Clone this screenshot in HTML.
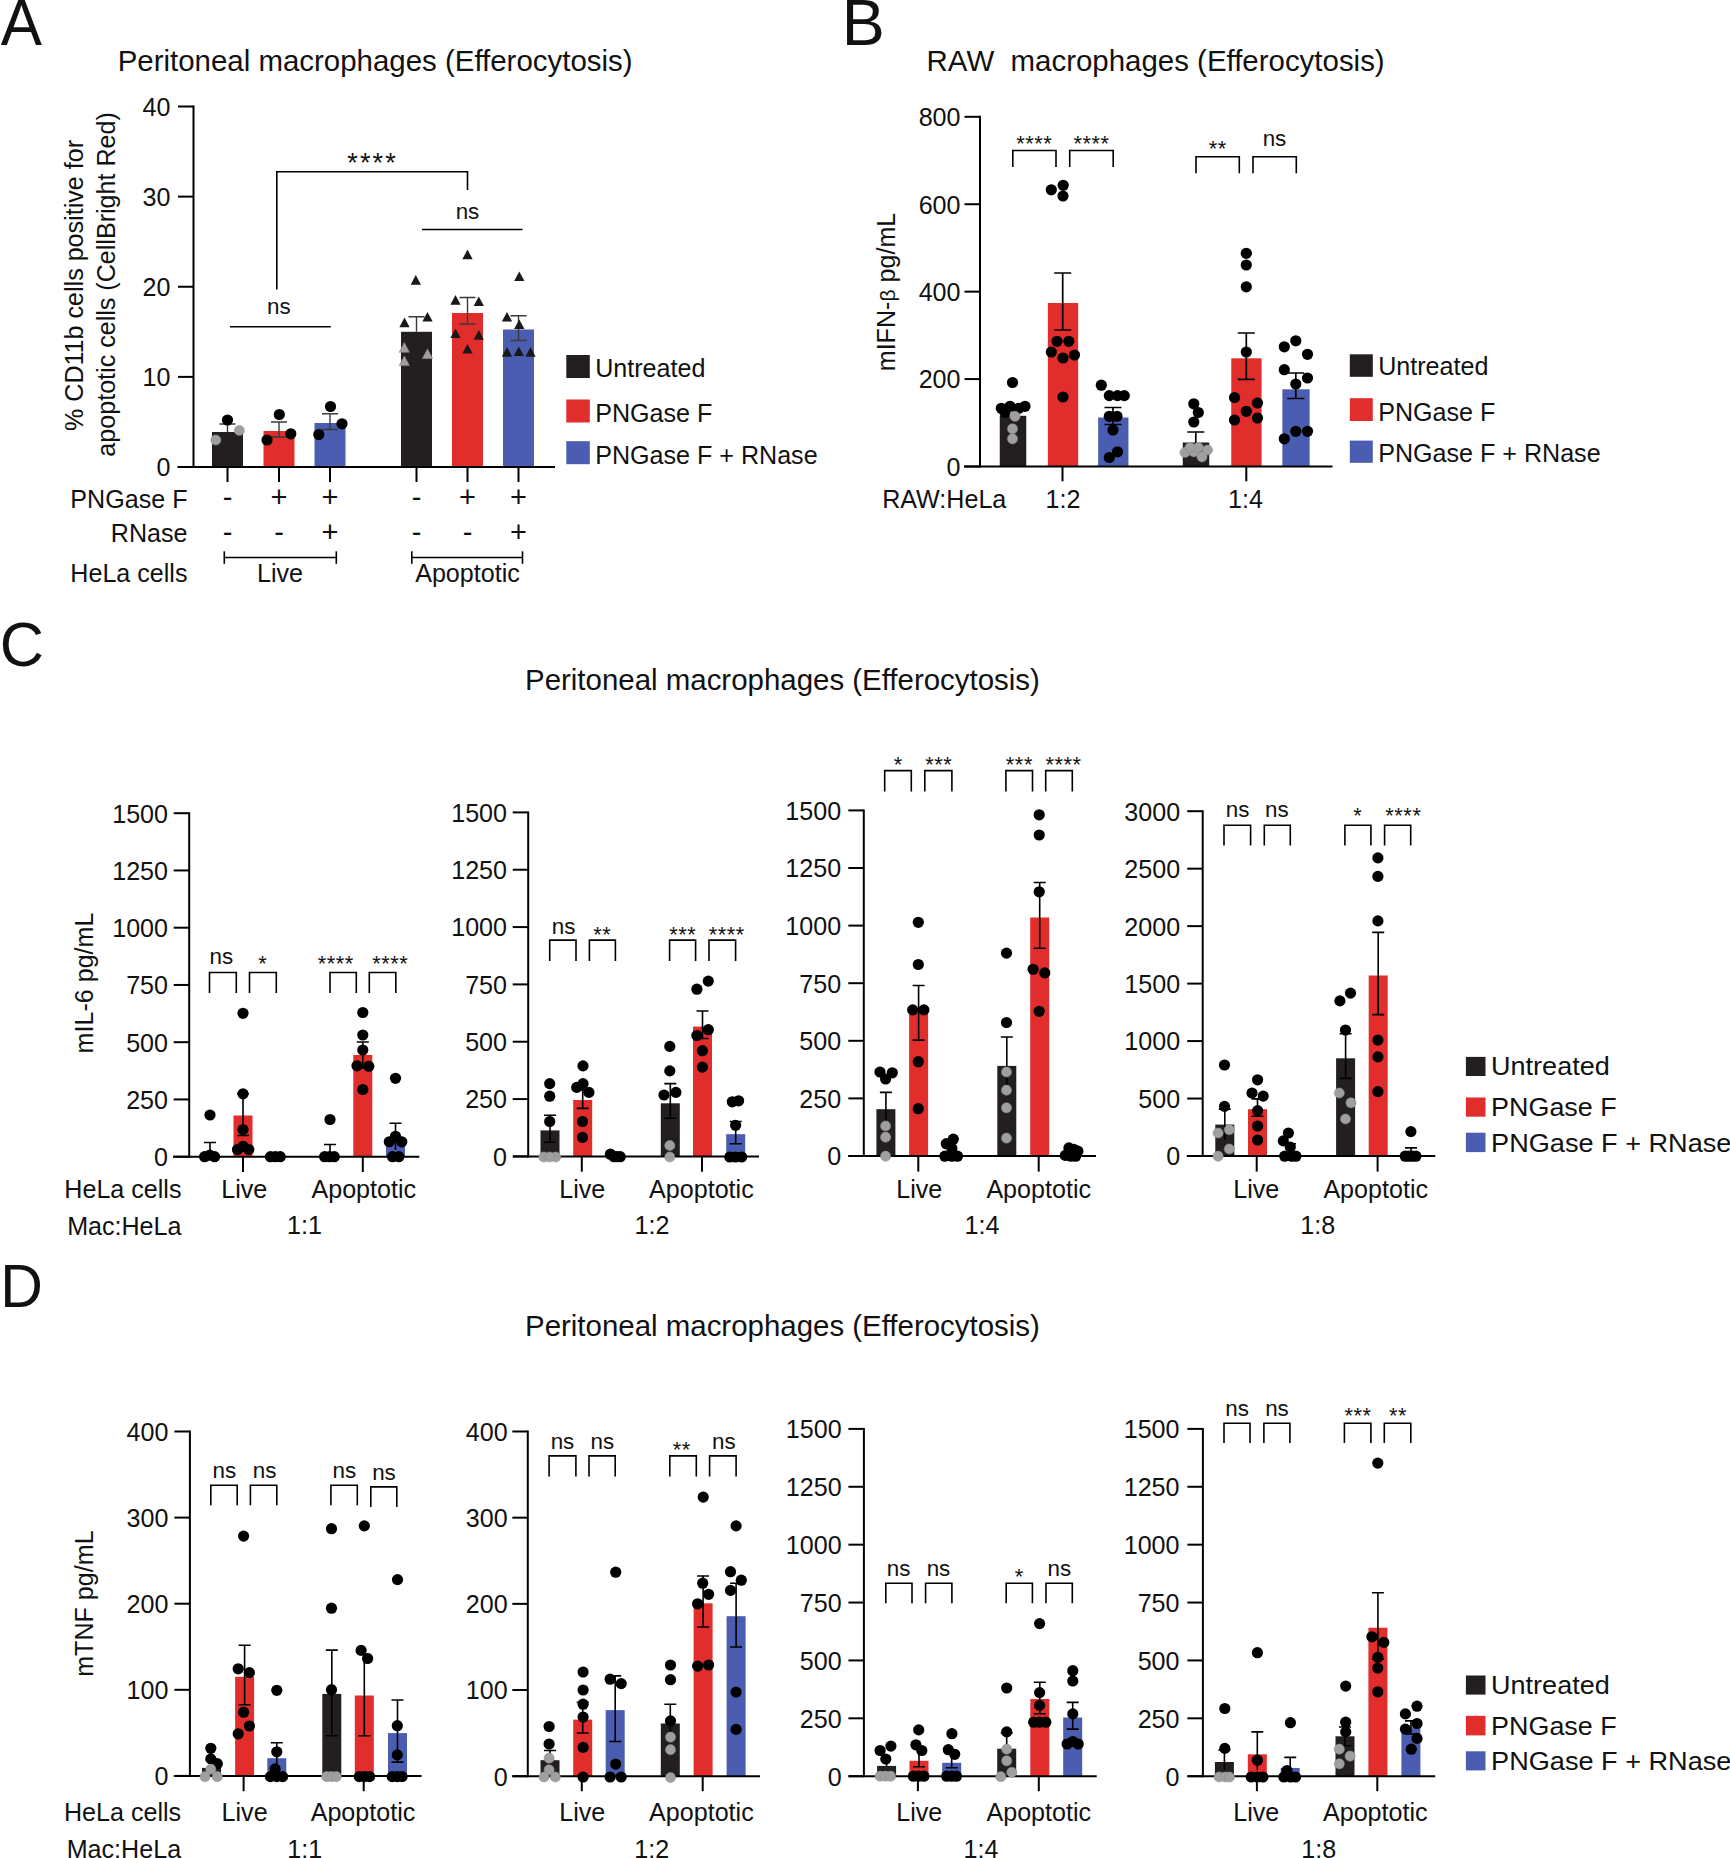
<!DOCTYPE html>
<html lang="en"><head><meta charset="utf-8"><title>Figure</title>
<style>
html,body{margin:0;padding:0;background:#fff}
svg{display:block}
text{font-family:"Liberation Sans","DejaVu Sans",sans-serif;font-size:25.1px;fill:#111}
</style></head><body>
<svg width="1730" height="1858" viewBox="0 0 1730 1858">
<rect width="1730" height="1858" fill="#fff"/>
<text x="0.7" y="45.4" style="font-size:64.6px" textLength="41.2" lengthAdjust="spacingAndGlyphs">A</text>
<text x="841.8" y="45.4" style="font-size:64.6px">B</text>
<text x="-0.3" y="666" style="font-size:62.5px" textLength="44.2" lengthAdjust="spacingAndGlyphs">C</text>
<text x="0.2" y="1307.4" style="font-size:61px" textLength="42.6" lengthAdjust="spacingAndGlyphs">D</text>
<text x="117.7" y="71.3" style="font-size:29.45px">Peritoneal macrophages (Efferocytosis)</text>
<text x="926.6" y="71.3" style="font-size:29.45px;white-space:pre" xml:space="preserve">RAW  macrophages (Efferocytosis)</text>
<text x="525" y="690.2" style="font-size:29.45px">Peritoneal macrophages (Efferocytosis)</text>
<text x="525" y="1336.1" style="font-size:29.45px">Peritoneal macrophages (Efferocytosis)</text>
<rect x="212" y="432" width="31" height="35" fill="#231f20"/>
<rect x="263.5" y="431" width="31" height="36" fill="#e12d2b"/>
<rect x="314.5" y="423" width="31" height="44" fill="#4a5db1"/>
<rect x="401" y="331.8" width="31" height="135.2" fill="#231f20"/>
<rect x="452" y="313" width="31" height="154" fill="#e12d2b"/>
<rect x="503" y="329.5" width="31" height="137.5" fill="#4a5db1"/>
<path d="M193.5 105.5L193.5 468" stroke="#000" stroke-width="2"/>
<path d="M178 467L193.5 467" stroke="#000" stroke-width="2"/>
<text x="170.5" y="476.4" text-anchor="end">0</text>
<path d="M178 376.88L193.5 376.88" stroke="#000" stroke-width="2"/>
<text x="170.5" y="386.27" text-anchor="end">10</text>
<path d="M178 286.75L193.5 286.75" stroke="#000" stroke-width="2"/>
<text x="170.5" y="296.15" text-anchor="end">20</text>
<path d="M178 196.62L193.5 196.62" stroke="#000" stroke-width="2"/>
<text x="170.5" y="206.03" text-anchor="end">30</text>
<path d="M178 106.5L193.5 106.5" stroke="#000" stroke-width="2"/>
<text x="170.5" y="115.9" text-anchor="end">40</text>
<path d="M177.5 467L555 467" stroke="#000" stroke-width="2"/>
<path d="M227.5 467L227.5 482" stroke="#000" stroke-width="2"/>
<path d="M279 467L279 482" stroke="#000" stroke-width="2"/>
<path d="M330 467L330 482" stroke="#000" stroke-width="2"/>
<path d="M416.5 467L416.5 482" stroke="#000" stroke-width="2"/>
<path d="M467.5 467L467.5 482" stroke="#000" stroke-width="2"/>
<path d="M518.5 467L518.5 482" stroke="#000" stroke-width="2"/>
<path d="M227.5 424L227.5 432M219.5 424L235.5 424" fill="none" stroke="#3a3a3a" stroke-width="1.4"/>
<path d="M279 422L279 437M271 422L287 422M271 437L287 437" fill="none" stroke="#3a3a3a" stroke-width="1.4"/>
<path d="M330 413.8L330 429.5M322 413.8L338 413.8M322 429.5L338 429.5" fill="none" stroke="#3a3a3a" stroke-width="1.4"/>
<path d="M416.5 316.8L416.5 331.8M408.5 316.8L424.5 316.8" fill="none" stroke="#3a3a3a" stroke-width="1.4"/>
<path d="M467.5 297.5L467.5 324M459.5 297.5L475.5 297.5M459.5 324L475.5 324" fill="none" stroke="#3a3a3a" stroke-width="1.4"/>
<path d="M518.5 315.8L518.5 340.5M510.5 315.8L526.5 315.8M510.5 340.5L526.5 340.5" fill="none" stroke="#3a3a3a" stroke-width="1.4"/>
<circle cx="227.5" cy="420" r="5.6" fill="#000"/>
<circle cx="215.8" cy="440" r="5.1" fill="#9f9f9f" stroke="#8c8c8c" stroke-width="0.5"/>
<circle cx="239.3" cy="430.5" r="5.1" fill="#9f9f9f" stroke="#8c8c8c" stroke-width="0.5"/>
<circle cx="279.3" cy="414.5" r="5.6" fill="#000"/>
<circle cx="267" cy="440" r="5.6" fill="#000"/>
<circle cx="290.8" cy="433.8" r="5.6" fill="#000"/>
<circle cx="330.5" cy="406.5" r="5.6" fill="#000"/>
<circle cx="318.8" cy="434.5" r="5.6" fill="#000"/>
<circle cx="342" cy="423.8" r="5.6" fill="#000"/>
<polygon points="415.8,275.1 410.65,284.8 420.95,284.8" fill="#1a1819"/>
<polygon points="404.5,317.6 399.35,327.3 409.65,327.3" fill="#1a1819"/>
<polygon points="427.5,311.9 422.35,321.6 432.65,321.6" fill="#1a1819"/>
<polygon points="404.3,342.6 399.15,352.3 409.45,352.3" fill="#9f9f9f" stroke="#8c8c8c" stroke-width="0.6"/>
<polygon points="404.3,355.9 399.15,365.6 409.45,365.6" fill="#9f9f9f" stroke="#8c8c8c" stroke-width="0.6"/>
<polygon points="427.5,348.9 422.35,358.6 432.65,358.6" fill="#9f9f9f" stroke="#8c8c8c" stroke-width="0.6"/>
<polygon points="467.5,249.6 462.35,259.3 472.65,259.3" fill="#1a1819"/>
<polygon points="455.5,295.1 450.35,304.8 460.65,304.8" fill="#1a1819"/>
<polygon points="478.8,296.4 473.65,306.1 483.95,306.1" fill="#1a1819"/>
<polygon points="455.5,328.4 450.35,338.1 460.65,338.1" fill="#1a1819"/>
<polygon points="478.8,330.1 473.65,339.8 483.95,339.8" fill="#1a1819"/>
<polygon points="467.5,343.9 462.35,353.6 472.65,353.6" fill="#1a1819"/>
<polygon points="519.3,271.4 514.15,281.1 524.45,281.1" fill="#1a1819"/>
<polygon points="507,311.9 501.85,321.6 512.15,321.6" fill="#1a1819"/>
<polygon points="519.3,319.4 514.15,329.1 524.45,329.1" fill="#1a1819"/>
<polygon points="507,347.1 501.85,356.8 512.15,356.8" fill="#1a1819"/>
<polygon points="518.8,346.4 513.65,356.1 523.95,356.1" fill="#1a1819"/>
<polygon points="530.5,347.1 525.35,356.8 535.65,356.8" fill="#1a1819"/>
<path d="M230 326.8L330.8 326.8" stroke="#000" stroke-width="1.6"/>
<text x="278.8" y="313.8" text-anchor="middle" style="font-size:22.4px">ns</text>
<path d="M276.8 289.5L276.8 171.8L467.5 171.8L467.5 190" fill="none" stroke="#000" stroke-width="1.6"/>
<text x="372.6" y="171.63" text-anchor="middle" style="font-size:27px;letter-spacing:2.2px">****</text>
<path d="M422 229.5L522.5 229.5" stroke="#000" stroke-width="1.6"/>
<text x="467.5" y="218.8" text-anchor="middle" style="font-size:22.4px">ns</text>
<text x="83" y="285.5" text-anchor="middle" transform="rotate(-90 83 285.5)">% CD11b cells positive for</text>
<text x="115" y="284.4" text-anchor="middle" transform="rotate(-90 115 284.4)">apoptotic cells (CellBright Red)</text>
<text x="187.5" y="507.5" text-anchor="end">PNGase F</text>
<text x="187.5" y="542" text-anchor="end">RNase</text>
<text x="187.5" y="582" text-anchor="end">HeLa cells</text>
<text x="227.5" y="506.5" text-anchor="middle" style="font-size:29px">-</text>
<text x="227.5" y="541.5" text-anchor="middle" style="font-size:29px">-</text>
<text x="279" y="506.5" text-anchor="middle" style="font-size:29px">+</text>
<text x="279" y="541.5" text-anchor="middle" style="font-size:29px">-</text>
<text x="330" y="506.5" text-anchor="middle" style="font-size:29px">+</text>
<text x="330" y="541.5" text-anchor="middle" style="font-size:29px">+</text>
<text x="416.5" y="506.5" text-anchor="middle" style="font-size:29px">-</text>
<text x="416.5" y="541.5" text-anchor="middle" style="font-size:29px">-</text>
<text x="467.5" y="506.5" text-anchor="middle" style="font-size:29px">+</text>
<text x="467.5" y="541.5" text-anchor="middle" style="font-size:29px">-</text>
<text x="518.5" y="506.5" text-anchor="middle" style="font-size:29px">+</text>
<text x="518.5" y="541.5" text-anchor="middle" style="font-size:29px">+</text>
<path d="M224.3 557.5L336.3 557.5" stroke="#000" stroke-width="1.6"/>
<path d="M224.3 551.3L224.3 563.8" stroke="#000" stroke-width="1.6"/>
<path d="M336.3 551.3L336.3 563.8" stroke="#000" stroke-width="1.6"/>
<path d="M411.8 557.5L522.5 557.5" stroke="#000" stroke-width="1.6"/>
<path d="M411.8 551.3L411.8 563.8" stroke="#000" stroke-width="1.6"/>
<path d="M522.5 551.3L522.5 563.8" stroke="#000" stroke-width="1.6"/>
<text x="280" y="582" text-anchor="middle">Live</text>
<text x="467.5" y="582" text-anchor="middle">Apoptotic</text>
<rect x="566.3" y="355" width="23.5" height="23" fill="#231f20"/>
<text x="595.2" y="376.6">Untreated</text>
<rect x="566.3" y="399.5" width="23.5" height="23" fill="#e12d2b"/>
<text x="595.2" y="422">PNGase F</text>
<rect x="566.3" y="441.2" width="23.5" height="23" fill="#4a5db1"/>
<text x="595.2" y="463.8">PNGase F + RNase</text>
<rect x="999.75" y="415.8" width="26.5" height="50.7" fill="#231f20"/>
<rect x="1047.85" y="303" width="30.3" height="163.5" fill="#e12d2b"/>
<rect x="1098.15" y="417.5" width="30.3" height="49" fill="#4a5db1"/>
<rect x="1182.75" y="442.5" width="26.5" height="24" fill="#231f20"/>
<rect x="1231.25" y="358.3" width="30.3" height="108.2" fill="#e12d2b"/>
<rect x="1282.35" y="389.3" width="27.3" height="77.2" fill="#4a5db1"/>
<path d="M980 115.8L980 467.5" stroke="#000" stroke-width="2"/>
<path d="M964.5 466.5L980 466.5" stroke="#000" stroke-width="2"/>
<text x="960.5" y="475.9" text-anchor="end">0</text>
<path d="M964.5 379.07L980 379.07" stroke="#000" stroke-width="2"/>
<text x="960.5" y="388.47" text-anchor="end">200</text>
<path d="M964.5 291.65L980 291.65" stroke="#000" stroke-width="2"/>
<text x="960.5" y="301.05" text-anchor="end">400</text>
<path d="M964.5 204.23L980 204.23" stroke="#000" stroke-width="2"/>
<text x="960.5" y="213.63" text-anchor="end">600</text>
<path d="M964.5 116.8L980 116.8" stroke="#000" stroke-width="2"/>
<text x="960.5" y="126.2" text-anchor="end">800</text>
<path d="M964 466.5L1332.5 466.5" stroke="#000" stroke-width="2"/>
<path d="M1062.5 466.5L1062.5 481.3" stroke="#000" stroke-width="2"/>
<path d="M1246.3 466.5L1246.3 481.3" stroke="#000" stroke-width="2"/>
<path d="M1013 405L1013 415.8" fill="none" stroke="#000" stroke-width="1.7"/>
<path d="M1062.7 273L1062.7 330M1054.2 273L1071.2 273M1054.2 330L1071.2 330" fill="none" stroke="#000" stroke-width="1.7"/>
<path d="M1113 407.5L1113 424.5M1104.5 407.5L1121.5 407.5M1104.5 424.5L1121.5 424.5" fill="none" stroke="#000" stroke-width="1.7"/>
<path d="M1195.8 432L1195.8 453M1187.3 432L1204.3 432" fill="none" stroke="#000" stroke-width="1.7"/>
<path d="M1246.3 333L1246.3 379.3M1237.8 333L1254.8 333M1237.8 379.3L1254.8 379.3" fill="none" stroke="#000" stroke-width="1.7"/>
<path d="M1295.8 373L1295.8 398.5M1287.3 373L1304.3 373M1287.3 398.5L1304.3 398.5" fill="none" stroke="#000" stroke-width="1.7"/>
<circle cx="1012.5" cy="382.5" r="5.6" fill="#000"/>
<circle cx="1001.3" cy="408.3" r="5.6" fill="#000"/>
<circle cx="1010" cy="406.3" r="5.6" fill="#000"/>
<circle cx="1018.8" cy="408.3" r="5.6" fill="#000"/>
<circle cx="1025" cy="406.3" r="5.6" fill="#000"/>
<circle cx="1005" cy="412.5" r="5.6" fill="#000"/>
<circle cx="1015" cy="416.3" r="5.1" fill="#9f9f9f" stroke="#8c8c8c" stroke-width="0.5"/>
<circle cx="1012.5" cy="428.8" r="5.1" fill="#9f9f9f" stroke="#8c8c8c" stroke-width="0.5"/>
<circle cx="1012.5" cy="438.8" r="5.1" fill="#9f9f9f" stroke="#8c8c8c" stroke-width="0.5"/>
<circle cx="1051.3" cy="189.8" r="5.6" fill="#000"/>
<circle cx="1063.2" cy="185.3" r="5.6" fill="#000"/>
<circle cx="1063" cy="196" r="5.6" fill="#000"/>
<circle cx="1057" cy="341.3" r="5.6" fill="#000"/>
<circle cx="1068.8" cy="341.3" r="5.6" fill="#000"/>
<circle cx="1051.3" cy="352" r="5.6" fill="#000"/>
<circle cx="1063" cy="358" r="5.6" fill="#000"/>
<circle cx="1074.5" cy="355" r="5.6" fill="#000"/>
<circle cx="1063" cy="397" r="5.6" fill="#000"/>
<circle cx="1101.3" cy="385.2" r="5.6" fill="#000"/>
<circle cx="1109.3" cy="395.6" r="5.6" fill="#000"/>
<circle cx="1117.5" cy="395.6" r="5.6" fill="#000"/>
<circle cx="1124.3" cy="395.6" r="5.6" fill="#000"/>
<circle cx="1109.3" cy="416.3" r="5.6" fill="#000"/>
<circle cx="1117" cy="416.3" r="5.6" fill="#000"/>
<circle cx="1113" cy="430" r="5.6" fill="#000"/>
<circle cx="1117.5" cy="451.8" r="5.6" fill="#000"/>
<circle cx="1109.3" cy="457.5" r="5.6" fill="#000"/>
<circle cx="1193.8" cy="403.8" r="5.6" fill="#000"/>
<circle cx="1198.3" cy="412.5" r="5.6" fill="#000"/>
<circle cx="1193.8" cy="422" r="5.6" fill="#000"/>
<circle cx="1185" cy="452.5" r="5.1" fill="#9f9f9f" stroke="#8c8c8c" stroke-width="0.5"/>
<circle cx="1193.8" cy="451.8" r="5.1" fill="#9f9f9f" stroke="#8c8c8c" stroke-width="0.5"/>
<circle cx="1198.3" cy="447.5" r="5.1" fill="#9f9f9f" stroke="#8c8c8c" stroke-width="0.5"/>
<circle cx="1207.5" cy="450" r="5.1" fill="#9f9f9f" stroke="#8c8c8c" stroke-width="0.5"/>
<circle cx="1202" cy="456.8" r="5.1" fill="#9f9f9f" stroke="#8c8c8c" stroke-width="0.5"/>
<circle cx="1190" cy="447.5" r="5.1" fill="#9f9f9f" stroke="#8c8c8c" stroke-width="0.5"/>
<circle cx="1246.3" cy="253.3" r="5.6" fill="#000"/>
<circle cx="1246.3" cy="265" r="5.6" fill="#000"/>
<circle cx="1246.3" cy="286.8" r="5.6" fill="#000"/>
<circle cx="1246.3" cy="352" r="5.6" fill="#000"/>
<circle cx="1234.5" cy="397.5" r="5.6" fill="#000"/>
<circle cx="1257.5" cy="403" r="5.6" fill="#000"/>
<circle cx="1246.3" cy="411.3" r="5.6" fill="#000"/>
<circle cx="1234.5" cy="420" r="5.6" fill="#000"/>
<circle cx="1257.5" cy="418" r="5.6" fill="#000"/>
<circle cx="1295.8" cy="340.8" r="5.6" fill="#000"/>
<circle cx="1284.3" cy="346.8" r="5.6" fill="#000"/>
<circle cx="1307.5" cy="354.3" r="5.6" fill="#000"/>
<circle cx="1284.3" cy="369.7" r="5.6" fill="#000"/>
<circle cx="1307.5" cy="378" r="5.6" fill="#000"/>
<circle cx="1295.8" cy="384" r="5.6" fill="#000"/>
<circle cx="1295.8" cy="431.3" r="5.6" fill="#000"/>
<circle cx="1307.5" cy="431.3" r="5.6" fill="#000"/>
<circle cx="1284.3" cy="438.8" r="5.6" fill="#000"/>
<path d="M1012.8 167L1012.8 150.5L1056 150.5L1056 167" fill="none" stroke="#000" stroke-width="1.6"/>
<path d="M1069.7 167L1069.7 150.5L1113.2 150.5L1113.2 167" fill="none" stroke="#000" stroke-width="1.6"/>
<path d="M1196 173.2L1196 156.8L1239.3 156.8L1239.3 173.2" fill="none" stroke="#000" stroke-width="1.6"/>
<path d="M1253 173.2L1253 156.8L1296.3 156.8L1296.3 173.2" fill="none" stroke="#000" stroke-width="1.6"/>
<text x="1034.28" y="151.34" text-anchor="middle" style="font-size:21.8px;letter-spacing:0.55px">****</text>
<text x="1091.58" y="151.34" text-anchor="middle" style="font-size:21.8px;letter-spacing:0.55px">****</text>
<text x="1217.78" y="155.54" text-anchor="middle" style="font-size:21.8px;letter-spacing:0.55px">**</text>
<text x="1274.5" y="145.8" text-anchor="middle" style="font-size:22.4px">ns</text>
<text x="895.4" y="292" text-anchor="middle" transform="rotate(-90 895.4 292)">mIFN-<tspan style="font-size:21px">β</tspan> pg/mL</text>
<text x="1006.3" y="508" text-anchor="end">RAW:HeLa</text>
<text x="1063" y="508" text-anchor="middle">1:2</text>
<text x="1245.5" y="508" text-anchor="middle">1:4</text>
<rect x="1349.8" y="354.3" width="23" height="22.5" fill="#231f20"/>
<text x="1378.2" y="375.2">Untreated</text>
<rect x="1349.8" y="398.2" width="23" height="22.8" fill="#e12d2b"/>
<text x="1378.2" y="420.7">PNGase F</text>
<rect x="1349.8" y="440.6" width="23" height="22.2" fill="#4a5db1"/>
<text x="1378.2" y="462.4">PNGase F + RNase</text>
<rect x="233.5" y="1115.5" width="19" height="41.2" fill="#e12d2b"/>
<rect x="353.3" y="1055" width="19" height="101.7" fill="#e12d2b"/>
<rect x="386" y="1137.5" width="19" height="19.2" fill="#4a5db1"/>
<path d="M189.2 812.2L189.2 1157.7" stroke="#000" stroke-width="2"/>
<path d="M173.7 1156.7L189.2 1156.7" stroke="#000" stroke-width="2"/>
<text x="168" y="1166.1" text-anchor="end">0</text>
<path d="M173.7 1099.45L189.2 1099.45" stroke="#000" stroke-width="2"/>
<text x="168" y="1108.85" text-anchor="end">250</text>
<path d="M173.7 1042.2L189.2 1042.2" stroke="#000" stroke-width="2"/>
<text x="168" y="1051.6" text-anchor="end">500</text>
<path d="M173.7 984.95L189.2 984.95" stroke="#000" stroke-width="2"/>
<text x="168" y="994.35" text-anchor="end">750</text>
<path d="M173.7 927.7L189.2 927.7" stroke="#000" stroke-width="2"/>
<text x="168" y="937.1" text-anchor="end">1000</text>
<path d="M173.7 870.45L189.2 870.45" stroke="#000" stroke-width="2"/>
<text x="168" y="879.85" text-anchor="end">1250</text>
<path d="M173.7 813.2L189.2 813.2" stroke="#000" stroke-width="2"/>
<text x="168" y="822.6" text-anchor="end">1500</text>
<path d="M173 1156.7L419.3 1156.7" stroke="#000" stroke-width="2"/>
<path d="M243 1156.7L243 1172" stroke="#000" stroke-width="2"/>
<path d="M362.8 1156.7L362.8 1172" stroke="#000" stroke-width="2"/>
<path d="M210 1142.5L210 1156M204 1142.5L216 1142.5" fill="none" stroke="#000" stroke-width="1.6"/>
<path d="M243 1093.8L243 1135.5M237 1093.8L249 1093.8M237 1135.5L249 1135.5" fill="none" stroke="#000" stroke-width="1.6"/>
<path d="M330 1144.5L330 1156M324 1144.5L336 1144.5" fill="none" stroke="#000" stroke-width="1.6"/>
<path d="M362.8 1042L362.8 1068M356.8 1042L368.8 1042M356.8 1068L368.8 1068" fill="none" stroke="#000" stroke-width="1.6"/>
<path d="M395.5 1123.3L395.5 1150M389.5 1123.3L401.5 1123.3" fill="none" stroke="#000" stroke-width="1.6"/>
<circle cx="210" cy="1115" r="5.6" fill="#000"/>
<circle cx="204.6" cy="1156.7" r="5.6" fill="#000"/>
<circle cx="209.8" cy="1155.2" r="5.6" fill="#000"/>
<circle cx="214.6" cy="1156.7" r="5.6" fill="#000"/>
<circle cx="243" cy="1013.3" r="5.6" fill="#000"/>
<circle cx="243" cy="1093.8" r="5.6" fill="#000"/>
<circle cx="243" cy="1129.5" r="5.6" fill="#000"/>
<circle cx="237.5" cy="1149.5" r="5.6" fill="#000"/>
<circle cx="243" cy="1146.3" r="5.6" fill="#000"/>
<circle cx="248.8" cy="1149.5" r="5.6" fill="#000"/>
<circle cx="270.5" cy="1156.7" r="5.6" fill="#000"/>
<circle cx="275.4" cy="1156.7" r="5.6" fill="#000"/>
<circle cx="280.2" cy="1156.7" r="5.6" fill="#000"/>
<circle cx="330" cy="1119.5" r="5.6" fill="#000"/>
<circle cx="324.6" cy="1156.7" r="5.6" fill="#000"/>
<circle cx="329.5" cy="1156.7" r="5.6" fill="#000"/>
<circle cx="334.3" cy="1156.7" r="5.6" fill="#000"/>
<circle cx="362.8" cy="1012.5" r="5.6" fill="#000"/>
<circle cx="362.8" cy="1035" r="5.6" fill="#000"/>
<circle cx="362.8" cy="1050" r="5.6" fill="#000"/>
<circle cx="357" cy="1065.8" r="5.6" fill="#000"/>
<circle cx="368.8" cy="1066.3" r="5.6" fill="#000"/>
<circle cx="362.8" cy="1089.5" r="5.6" fill="#000"/>
<circle cx="395.5" cy="1078.3" r="5.6" fill="#000"/>
<circle cx="395.5" cy="1136.3" r="5.6" fill="#000"/>
<circle cx="389.3" cy="1141.8" r="5.6" fill="#000"/>
<circle cx="401.8" cy="1141.8" r="5.6" fill="#000"/>
<circle cx="392.5" cy="1156.7" r="5.6" fill="#000"/>
<circle cx="398.8" cy="1156.7" r="5.6" fill="#000"/>
<path d="M209.5 993L209.5 972.5L236.3 972.5L236.3 993" fill="none" stroke="#000" stroke-width="1.6"/>
<path d="M249.5 993L249.5 972.5L276.3 972.5L276.3 993" fill="none" stroke="#000" stroke-width="1.6"/>
<path d="M330 993L330 972.5L356.3 972.5L356.3 993" fill="none" stroke="#000" stroke-width="1.6"/>
<path d="M369.3 993L369.3 972.5L395.8 972.5L395.8 993" fill="none" stroke="#000" stroke-width="1.6"/>
<text x="221.3" y="963.8" text-anchor="middle" style="font-size:22.4px">ns</text>
<text x="262.77" y="971.34" text-anchor="middle" style="font-size:21.8px;letter-spacing:0.55px">*</text>
<text x="335.77" y="971.34" text-anchor="middle" style="font-size:21.8px;letter-spacing:0.55px">****</text>
<text x="390.27" y="971.34" text-anchor="middle" style="font-size:21.8px;letter-spacing:0.55px">****</text>
<text x="244.3" y="1198.2" text-anchor="middle">Live</text>
<text x="363.8" y="1198.2" text-anchor="middle">Apoptotic</text>
<text x="304.5" y="1234.3" text-anchor="middle">1:1</text>
<text x="181.5" y="1198" text-anchor="end">HeLa cells</text>
<text x="181.5" y="1234.5" text-anchor="end">Mac:HeLa</text>
<text x="92.5" y="983" text-anchor="middle" transform="rotate(-90 92.5 983)">mIL-6 pg/mL</text>
<rect x="540.5" y="1130.4" width="19" height="26" fill="#231f20"/>
<rect x="573.2" y="1100" width="19" height="56.4" fill="#e12d2b"/>
<rect x="660.8" y="1103.3" width="19" height="53.1" fill="#231f20"/>
<rect x="693" y="1026.6" width="19" height="129.8" fill="#e12d2b"/>
<rect x="726.2" y="1134.2" width="19" height="22.2" fill="#4a5db1"/>
<path d="M528.2 811.4L528.2 1157.4" stroke="#000" stroke-width="2"/>
<path d="M512.7 1156.4L528.2 1156.4" stroke="#000" stroke-width="2"/>
<text x="507" y="1165.8" text-anchor="end">0</text>
<path d="M512.7 1099.07L528.2 1099.07" stroke="#000" stroke-width="2"/>
<text x="507" y="1108.47" text-anchor="end">250</text>
<path d="M512.7 1041.73L528.2 1041.73" stroke="#000" stroke-width="2"/>
<text x="507" y="1051.13" text-anchor="end">500</text>
<path d="M512.7 984.4L528.2 984.4" stroke="#000" stroke-width="2"/>
<text x="507" y="993.8" text-anchor="end">750</text>
<path d="M512.7 927.07L528.2 927.07" stroke="#000" stroke-width="2"/>
<text x="507" y="936.47" text-anchor="end">1000</text>
<path d="M512.7 869.73L528.2 869.73" stroke="#000" stroke-width="2"/>
<text x="507" y="879.13" text-anchor="end">1250</text>
<path d="M512.7 812.4L528.2 812.4" stroke="#000" stroke-width="2"/>
<text x="507" y="821.8" text-anchor="end">1500</text>
<path d="M513 1156.4L759 1156.4" stroke="#000" stroke-width="2"/>
<path d="M581.8 1156.4L581.8 1171.7" stroke="#000" stroke-width="2"/>
<path d="M702 1156.4L702 1171.7" stroke="#000" stroke-width="2"/>
<path d="M550 1115.2L550 1142.3M544 1115.2L556 1115.2M544 1142.3L556 1142.3" fill="none" stroke="#000" stroke-width="1.6"/>
<path d="M582.7 1089.9L582.7 1108.4M576.7 1089.9L588.7 1089.9M576.7 1108.4L588.7 1108.4" fill="none" stroke="#000" stroke-width="1.6"/>
<path d="M670.3 1083.6L670.3 1118.2M664.3 1083.6L676.3 1083.6M664.3 1118.2L676.3 1118.2" fill="none" stroke="#000" stroke-width="1.6"/>
<path d="M702.5 1011L702.5 1038.5M696.5 1011L708.5 1011M696.5 1038.5L708.5 1038.5" fill="none" stroke="#000" stroke-width="1.6"/>
<path d="M735.7 1121.5L735.7 1143.8M729.7 1121.5L741.7 1121.5M729.7 1143.8L741.7 1143.8" fill="none" stroke="#000" stroke-width="1.6"/>
<circle cx="549.7" cy="1083.6" r="5.6" fill="#000"/>
<circle cx="549.7" cy="1096.2" r="5.6" fill="#000"/>
<circle cx="549.7" cy="1121.5" r="5.6" fill="#000"/>
<circle cx="543.8" cy="1157" r="5.1" fill="#9f9f9f" stroke="#8c8c8c" stroke-width="0.5"/>
<circle cx="555.7" cy="1157" r="5.1" fill="#9f9f9f" stroke="#8c8c8c" stroke-width="0.5"/>
<circle cx="549.7" cy="1157" r="5.1" fill="#9f9f9f" stroke="#8c8c8c" stroke-width="0.5"/>
<circle cx="583" cy="1065.9" r="5.6" fill="#000"/>
<circle cx="576.7" cy="1087.4" r="5.6" fill="#000"/>
<circle cx="583" cy="1083.6" r="5.6" fill="#000"/>
<circle cx="588.9" cy="1092.4" r="5.6" fill="#000"/>
<circle cx="582.5" cy="1121.5" r="5.6" fill="#000"/>
<circle cx="582.5" cy="1137.4" r="5.6" fill="#000"/>
<circle cx="610.4" cy="1154.2" r="5.6" fill="#000"/>
<circle cx="614" cy="1156.7" r="5.6" fill="#000"/>
<circle cx="617" cy="1156.7" r="5.6" fill="#000"/>
<circle cx="620.2" cy="1156.7" r="5.6" fill="#000"/>
<circle cx="669.8" cy="1046.4" r="5.6" fill="#000"/>
<circle cx="669.8" cy="1070.9" r="5.6" fill="#000"/>
<circle cx="664" cy="1095" r="5.6" fill="#000"/>
<circle cx="675.9" cy="1092.4" r="5.6" fill="#000"/>
<circle cx="669.8" cy="1145.5" r="5.1" fill="#9f9f9f" stroke="#8c8c8c" stroke-width="0.5"/>
<circle cx="669.8" cy="1157" r="5.1" fill="#9f9f9f" stroke="#8c8c8c" stroke-width="0.5"/>
<circle cx="708.3" cy="981.1" r="5.6" fill="#000"/>
<circle cx="696.9" cy="989.2" r="5.6" fill="#000"/>
<circle cx="708.3" cy="1029.7" r="5.6" fill="#000"/>
<circle cx="696.9" cy="1035.5" r="5.6" fill="#000"/>
<circle cx="702.4" cy="1050.7" r="5.6" fill="#000"/>
<circle cx="702.4" cy="1067.1" r="5.6" fill="#000"/>
<circle cx="732.3" cy="1101.8" r="5.6" fill="#000"/>
<circle cx="738.6" cy="1100.8" r="5.6" fill="#000"/>
<circle cx="735.6" cy="1125.3" r="5.6" fill="#000"/>
<circle cx="729.8" cy="1157" r="5.6" fill="#000"/>
<circle cx="735.6" cy="1157" r="5.6" fill="#000"/>
<circle cx="741.7" cy="1157" r="5.6" fill="#000"/>
<path d="M549.7 960.9L549.7 940.1L576 940.1L576 960.9" fill="none" stroke="#000" stroke-width="1.6"/>
<path d="M589.4 960.9L589.4 940.1L615.4 940.1L615.4 960.9" fill="none" stroke="#000" stroke-width="1.6"/>
<path d="M669.6 960.9L669.6 940.1L695.6 940.1L695.6 960.9" fill="none" stroke="#000" stroke-width="1.6"/>
<path d="M709 960.9L709 940.1L735.6 940.1L735.6 960.9" fill="none" stroke="#000" stroke-width="1.6"/>
<text x="563.6" y="933.8" text-anchor="middle" style="font-size:22.4px">ns</text>
<text x="602.27" y="941.74" text-anchor="middle" style="font-size:21.8px;letter-spacing:0.55px">**</text>
<text x="682.77" y="941.74" text-anchor="middle" style="font-size:21.8px;letter-spacing:0.55px">***</text>
<text x="726.77" y="941.74" text-anchor="middle" style="font-size:21.8px;letter-spacing:0.55px">****</text>
<text x="582.3" y="1197.6" text-anchor="middle">Live</text>
<text x="701.4" y="1197.6" text-anchor="middle">Apoptotic</text>
<text x="652" y="1234" text-anchor="middle">1:2</text>
<rect x="876.4" y="1109.2" width="19" height="46.8" fill="#231f20"/>
<rect x="909.1" y="1012.7" width="19" height="143.3" fill="#e12d2b"/>
<rect x="997.3" y="1065.9" width="19" height="90.1" fill="#231f20"/>
<rect x="1030.2" y="917.5" width="19" height="238.5" fill="#e12d2b"/>
<path d="M863.8 809.4L863.8 1157" stroke="#000" stroke-width="2"/>
<path d="M848.3 1156L863.8 1156" stroke="#000" stroke-width="2"/>
<text x="841.2" y="1165.4" text-anchor="end">0</text>
<path d="M848.3 1098.4L863.8 1098.4" stroke="#000" stroke-width="2"/>
<text x="841.2" y="1107.8" text-anchor="end">250</text>
<path d="M848.3 1040.8L863.8 1040.8" stroke="#000" stroke-width="2"/>
<text x="841.2" y="1050.2" text-anchor="end">500</text>
<path d="M848.3 983.2L863.8 983.2" stroke="#000" stroke-width="2"/>
<text x="841.2" y="992.6" text-anchor="end">750</text>
<path d="M848.3 925.6L863.8 925.6" stroke="#000" stroke-width="2"/>
<text x="841.2" y="935" text-anchor="end">1000</text>
<path d="M848.3 868L863.8 868" stroke="#000" stroke-width="2"/>
<text x="841.2" y="877.4" text-anchor="end">1250</text>
<path d="M848.3 810.4L863.8 810.4" stroke="#000" stroke-width="2"/>
<text x="841.2" y="819.8" text-anchor="end">1500</text>
<path d="M848.4 1156L1096 1156" stroke="#000" stroke-width="2"/>
<path d="M918.3 1156L918.3 1171.6" stroke="#000" stroke-width="2"/>
<path d="M1038.7 1156L1038.7 1171.6" stroke="#000" stroke-width="2"/>
<path d="M885.9 1092.4L885.9 1125M879.9 1092.4L891.9 1092.4" fill="none" stroke="#000" stroke-width="1.6"/>
<path d="M918.6 985.5L918.6 1040.1M912.6 985.5L924.6 985.5M912.6 1040.1L924.6 1040.1" fill="none" stroke="#000" stroke-width="1.6"/>
<path d="M1006.8 1037L1006.8 1090M1000.8 1037L1012.8 1037" fill="none" stroke="#000" stroke-width="1.6"/>
<path d="M1039.7 882.5L1039.7 948.3M1033.7 882.5L1045.7 882.5M1033.7 948.3L1045.7 948.3" fill="none" stroke="#000" stroke-width="1.6"/>
<circle cx="880" cy="1072" r="5.6" fill="#000"/>
<circle cx="892.3" cy="1072.8" r="5.6" fill="#000"/>
<circle cx="885.6" cy="1079" r="5.6" fill="#000"/>
<circle cx="885.6" cy="1126" r="5.1" fill="#9f9f9f" stroke="#8c8c8c" stroke-width="0.5"/>
<circle cx="885.6" cy="1137.2" r="5.1" fill="#9f9f9f" stroke="#8c8c8c" stroke-width="0.5"/>
<circle cx="885.6" cy="1156.2" r="5.1" fill="#9f9f9f" stroke="#8c8c8c" stroke-width="0.5"/>
<circle cx="918.3" cy="922.3" r="5.6" fill="#000"/>
<circle cx="918.3" cy="964.5" r="5.6" fill="#000"/>
<circle cx="912.7" cy="1009.9" r="5.6" fill="#000"/>
<circle cx="923.9" cy="1009.9" r="5.6" fill="#000"/>
<circle cx="918.3" cy="1061.7" r="5.6" fill="#000"/>
<circle cx="918.3" cy="1108.7" r="5.6" fill="#000"/>
<circle cx="953.3" cy="1139.2" r="5.6" fill="#000"/>
<circle cx="946.3" cy="1143.7" r="5.6" fill="#000"/>
<circle cx="951.9" cy="1148.4" r="5.6" fill="#000"/>
<circle cx="944.9" cy="1156.2" r="5.6" fill="#000"/>
<circle cx="951.9" cy="1156.2" r="5.6" fill="#000"/>
<circle cx="957.5" cy="1156.2" r="5.6" fill="#000"/>
<circle cx="1006.5" cy="953.1" r="5.6" fill="#000"/>
<circle cx="1006.5" cy="1022.5" r="5.6" fill="#000"/>
<circle cx="1006.5" cy="1072" r="5.1" fill="#9f9f9f" stroke="#8c8c8c" stroke-width="0.5"/>
<circle cx="1006.5" cy="1090.2" r="5.1" fill="#9f9f9f" stroke="#8c8c8c" stroke-width="0.5"/>
<circle cx="1006.5" cy="1107.8" r="5.1" fill="#9f9f9f" stroke="#8c8c8c" stroke-width="0.5"/>
<circle cx="1006.5" cy="1138.1" r="5.1" fill="#9f9f9f" stroke="#8c8c8c" stroke-width="0.5"/>
<circle cx="1039.2" cy="814.8" r="5.6" fill="#000"/>
<circle cx="1039.2" cy="835" r="5.6" fill="#000"/>
<circle cx="1039.2" cy="891.8" r="5.6" fill="#000"/>
<circle cx="1033.1" cy="969.3" r="5.6" fill="#000"/>
<circle cx="1044.8" cy="972.9" r="5.6" fill="#000"/>
<circle cx="1039.2" cy="1011.3" r="5.6" fill="#000"/>
<circle cx="1068.9" cy="1147.9" r="5.6" fill="#000"/>
<circle cx="1073.7" cy="1149.3" r="5.6" fill="#000"/>
<circle cx="1077.9" cy="1151.2" r="5.6" fill="#000"/>
<circle cx="1065.3" cy="1155.4" r="5.6" fill="#000"/>
<circle cx="1070.9" cy="1156.2" r="5.6" fill="#000"/>
<circle cx="1075.6" cy="1156.2" r="5.6" fill="#000"/>
<path d="M884.7 791.6L884.7 770.6L911.3 770.6L911.3 791.6" fill="none" stroke="#000" stroke-width="1.6"/>
<path d="M924.8 791.6L924.8 770.6L951.9 770.6L951.9 791.6" fill="none" stroke="#000" stroke-width="1.6"/>
<path d="M1005.9 791.6L1005.9 770.6L1032.5 770.6L1032.5 791.6" fill="none" stroke="#000" stroke-width="1.6"/>
<path d="M1045.7 791.6L1045.7 770.6L1072.3 770.6L1072.3 791.6" fill="none" stroke="#000" stroke-width="1.6"/>
<text x="898.17" y="771.64" text-anchor="middle" style="font-size:21.8px;letter-spacing:0.55px">*</text>
<text x="938.77" y="771.64" text-anchor="middle" style="font-size:21.8px;letter-spacing:0.55px">***</text>
<text x="1019.38" y="771.64" text-anchor="middle" style="font-size:21.8px;letter-spacing:0.55px">***</text>
<text x="1063.58" y="771.64" text-anchor="middle" style="font-size:21.8px;letter-spacing:0.55px">****</text>
<text x="919.2" y="1197.6" text-anchor="middle">Live</text>
<text x="1038.7" y="1197.6" text-anchor="middle">Apoptotic</text>
<text x="981.9" y="1234" text-anchor="middle">1:4</text>
<rect x="1215.3" y="1124.6" width="19" height="31.4" fill="#231f20"/>
<rect x="1248" y="1109.2" width="19" height="46.8" fill="#e12d2b"/>
<rect x="1336.1" y="1058.3" width="19" height="97.7" fill="#231f20"/>
<rect x="1368.7" y="975.5" width="19" height="180.5" fill="#e12d2b"/>
<path d="M1202.7 810.2L1202.7 1157" stroke="#000" stroke-width="2"/>
<path d="M1187.2 1156L1202.7 1156" stroke="#000" stroke-width="2"/>
<text x="1180.2" y="1165.4" text-anchor="end">0</text>
<path d="M1187.2 1098.53L1202.7 1098.53" stroke="#000" stroke-width="2"/>
<text x="1180.2" y="1107.93" text-anchor="end">500</text>
<path d="M1187.2 1041.07L1202.7 1041.07" stroke="#000" stroke-width="2"/>
<text x="1180.2" y="1050.47" text-anchor="end">1000</text>
<path d="M1187.2 983.6L1202.7 983.6" stroke="#000" stroke-width="2"/>
<text x="1180.2" y="993" text-anchor="end">1500</text>
<path d="M1187.2 926.13L1202.7 926.13" stroke="#000" stroke-width="2"/>
<text x="1180.2" y="935.53" text-anchor="end">2000</text>
<path d="M1187.2 868.67L1202.7 868.67" stroke="#000" stroke-width="2"/>
<text x="1180.2" y="878.07" text-anchor="end">2500</text>
<path d="M1187.2 811.2L1202.7 811.2" stroke="#000" stroke-width="2"/>
<text x="1180.2" y="820.6" text-anchor="end">3000</text>
<path d="M1186.8 1156L1435.3 1156" stroke="#000" stroke-width="2"/>
<path d="M1256.7 1156L1256.7 1171.6" stroke="#000" stroke-width="2"/>
<path d="M1377.6 1156L1377.6 1171.6" stroke="#000" stroke-width="2"/>
<path d="M1224.8 1109.2L1224.8 1140M1218.8 1109.2L1230.8 1109.2" fill="none" stroke="#000" stroke-width="1.6"/>
<path d="M1257.5 1098.9L1257.5 1116.2M1251.5 1098.9L1263.5 1098.9M1251.5 1116.2L1263.5 1116.2" fill="none" stroke="#000" stroke-width="1.6"/>
<path d="M1290 1143.7L1290 1150M1284 1143.7L1296 1143.7" fill="none" stroke="#000" stroke-width="1.6"/>
<path d="M1345.6 1033.7L1345.6 1078.4M1339.6 1033.7L1351.6 1033.7M1339.6 1078.4L1351.6 1078.4" fill="none" stroke="#000" stroke-width="1.6"/>
<path d="M1378.2 932.4L1378.2 1014.6M1372.2 932.4L1384.2 932.4M1372.2 1014.6L1384.2 1014.6" fill="none" stroke="#000" stroke-width="1.6"/>
<path d="M1411 1147.9L1411 1155M1405 1147.9L1417 1147.9" fill="none" stroke="#000" stroke-width="1.6"/>
<circle cx="1224.5" cy="1065" r="5.6" fill="#000"/>
<circle cx="1224.5" cy="1106.4" r="5.6" fill="#000"/>
<circle cx="1218.1" cy="1133" r="5.1" fill="#9f9f9f" stroke="#8c8c8c" stroke-width="0.5"/>
<circle cx="1229.3" cy="1129.7" r="5.1" fill="#9f9f9f" stroke="#8c8c8c" stroke-width="0.5"/>
<circle cx="1229.3" cy="1149" r="5.1" fill="#9f9f9f" stroke="#8c8c8c" stroke-width="0.5"/>
<circle cx="1218.1" cy="1156.2" r="5.1" fill="#9f9f9f" stroke="#8c8c8c" stroke-width="0.5"/>
<circle cx="1257.6" cy="1079.8" r="5.6" fill="#000"/>
<circle cx="1252" cy="1093" r="5.6" fill="#000"/>
<circle cx="1263.2" cy="1096.1" r="5.6" fill="#000"/>
<circle cx="1257.6" cy="1110.6" r="5.6" fill="#000"/>
<circle cx="1257.6" cy="1126" r="5.6" fill="#000"/>
<circle cx="1257.6" cy="1140" r="5.6" fill="#000"/>
<circle cx="1288.4" cy="1133" r="5.6" fill="#000"/>
<circle cx="1283.3" cy="1140.9" r="5.6" fill="#000"/>
<circle cx="1290.3" cy="1147" r="5.6" fill="#000"/>
<circle cx="1284.7" cy="1156.2" r="5.6" fill="#000"/>
<circle cx="1291.7" cy="1156.2" r="5.6" fill="#000"/>
<circle cx="1295.9" cy="1156.2" r="5.6" fill="#000"/>
<circle cx="1339.9" cy="1000.9" r="5.6" fill="#000"/>
<circle cx="1350.5" cy="993.1" r="5.6" fill="#000"/>
<circle cx="1345.5" cy="1030" r="5.6" fill="#000"/>
<circle cx="1339.3" cy="1093" r="5.1" fill="#9f9f9f" stroke="#8c8c8c" stroke-width="0.5"/>
<circle cx="1351" cy="1102.8" r="5.1" fill="#9f9f9f" stroke="#8c8c8c" stroke-width="0.5"/>
<circle cx="1345.5" cy="1119" r="5.1" fill="#9f9f9f" stroke="#8c8c8c" stroke-width="0.5"/>
<circle cx="1377.9" cy="857.9" r="5.6" fill="#000"/>
<circle cx="1377.9" cy="876.4" r="5.6" fill="#000"/>
<circle cx="1377.9" cy="920.9" r="5.6" fill="#000"/>
<circle cx="1377.9" cy="1040.1" r="5.6" fill="#000"/>
<circle cx="1377.9" cy="1056.9" r="5.6" fill="#000"/>
<circle cx="1377.9" cy="1091.6" r="5.6" fill="#000"/>
<circle cx="1410.9" cy="1131.6" r="5.6" fill="#000"/>
<circle cx="1405.2" cy="1156.2" r="5.6" fill="#000"/>
<circle cx="1408.8" cy="1156.2" r="5.6" fill="#000"/>
<circle cx="1412.4" cy="1156.2" r="5.6" fill="#000"/>
<circle cx="1415.9" cy="1156.2" r="5.6" fill="#000"/>
<path d="M1224 845.6L1224 825.2L1250.6 825.2L1250.6 845.6" fill="none" stroke="#000" stroke-width="1.6"/>
<path d="M1264.3 845.6L1264.3 825.2L1290.3 825.2L1290.3 845.6" fill="none" stroke="#000" stroke-width="1.6"/>
<path d="M1344.9 845.6L1344.9 825.2L1370.9 825.2L1370.9 845.6" fill="none" stroke="#000" stroke-width="1.6"/>
<path d="M1384.6 845.6L1384.6 825.2L1410.7 825.2L1410.7 845.6" fill="none" stroke="#000" stroke-width="1.6"/>
<text x="1237.7" y="816.8" text-anchor="middle" style="font-size:22.4px">ns</text>
<text x="1276.9" y="816.8" text-anchor="middle" style="font-size:22.4px">ns</text>
<text x="1357.78" y="822.84" text-anchor="middle" style="font-size:21.8px;letter-spacing:0.55px">*</text>
<text x="1403.38" y="822.84" text-anchor="middle" style="font-size:21.8px;letter-spacing:0.55px">****</text>
<text x="1256.2" y="1197.6" text-anchor="middle">Live</text>
<text x="1375.7" y="1197.6" text-anchor="middle">Apoptotic</text>
<text x="1317.7" y="1234" text-anchor="middle">1:8</text>
<rect x="1465.9" y="1056.9" width="19.6" height="19.1" fill="#231f20"/>
<text x="1491.1" y="1075.1" style="font-size:25.6px" textLength="118.6" lengthAdjust="spacingAndGlyphs">Untreated</text>
<rect x="1465.9" y="1097.5" width="19.6" height="19.2" fill="#e12d2b"/>
<text x="1491.1" y="1116.2" style="font-size:25.6px" textLength="125.6" lengthAdjust="spacingAndGlyphs">PNGase F</text>
<rect x="1465.9" y="1132.7" width="19.6" height="19.4" fill="#4a5db1"/>
<text x="1491.1" y="1151.8" style="font-size:25.6px" textLength="240.3" lengthAdjust="spacingAndGlyphs">PNGase F + RNase</text>
<rect x="202" y="1767.9" width="19" height="8" fill="#231f20"/>
<rect x="235.1" y="1676.8" width="19" height="99.1" fill="#e12d2b"/>
<rect x="267.3" y="1758.2" width="19" height="17.7" fill="#4a5db1"/>
<rect x="322.3" y="1693.9" width="19" height="82" fill="#231f20"/>
<rect x="354.8" y="1695.5" width="19" height="80.4" fill="#e12d2b"/>
<rect x="388" y="1733.1" width="19" height="42.8" fill="#4a5db1"/>
<path d="M189.9 1430.5L189.9 1776.9" stroke="#000" stroke-width="2"/>
<path d="M174.4 1775.9L189.9 1775.9" stroke="#000" stroke-width="2"/>
<text x="168.4" y="1785.3" text-anchor="end">0</text>
<path d="M174.4 1689.8L189.9 1689.8" stroke="#000" stroke-width="2"/>
<text x="168.4" y="1699.2" text-anchor="end">100</text>
<path d="M174.4 1603.7L189.9 1603.7" stroke="#000" stroke-width="2"/>
<text x="168.4" y="1613.1" text-anchor="end">200</text>
<path d="M174.4 1517.6L189.9 1517.6" stroke="#000" stroke-width="2"/>
<text x="168.4" y="1527" text-anchor="end">300</text>
<path d="M174.4 1431.5L189.9 1431.5" stroke="#000" stroke-width="2"/>
<text x="168.4" y="1440.9" text-anchor="end">400</text>
<path d="M173.8 1775.9L421.6 1775.9" stroke="#000" stroke-width="2"/>
<path d="M243.6 1775.9L243.6 1791.2" stroke="#000" stroke-width="2"/>
<path d="M363.7 1775.9L363.7 1791.2" stroke="#000" stroke-width="2"/>
<path d="M244.6 1645.3L244.6 1704.8M238.6 1645.3L250.6 1645.3M238.6 1704.8L250.6 1704.8" fill="none" stroke="#000" stroke-width="1.6"/>
<path d="M276.8 1742.8L276.8 1770M270.8 1742.8L282.8 1742.8" fill="none" stroke="#000" stroke-width="1.6"/>
<path d="M331.8 1650.1L331.8 1735.7M325.8 1650.1L337.8 1650.1M325.8 1735.7L337.8 1735.7" fill="none" stroke="#000" stroke-width="1.6"/>
<path d="M364.3 1654.3L364.3 1735.7M358.3 1654.3L370.3 1654.3M358.3 1735.7L370.3 1735.7" fill="none" stroke="#000" stroke-width="1.6"/>
<path d="M397.5 1700L397.5 1762.1M391.5 1700L403.5 1700M391.5 1762.1L403.5 1762.1" fill="none" stroke="#000" stroke-width="1.6"/>
<circle cx="210.8" cy="1748.3" r="5.6" fill="#000"/>
<circle cx="210.8" cy="1758.9" r="5.6" fill="#000"/>
<circle cx="217.3" cy="1763.7" r="5.6" fill="#000"/>
<circle cx="210.8" cy="1769.2" r="5.1" fill="#9f9f9f" stroke="#8c8c8c" stroke-width="0.5"/>
<circle cx="205" cy="1776.6" r="5.1" fill="#9f9f9f" stroke="#8c8c8c" stroke-width="0.5"/>
<circle cx="217.3" cy="1776.6" r="5.1" fill="#9f9f9f" stroke="#8c8c8c" stroke-width="0.5"/>
<circle cx="243.6" cy="1536.1" r="5.6" fill="#000"/>
<circle cx="238.2" cy="1668.8" r="5.6" fill="#000"/>
<circle cx="249.4" cy="1672.6" r="5.6" fill="#000"/>
<circle cx="243.6" cy="1712.2" r="5.6" fill="#000"/>
<circle cx="249.4" cy="1726" r="5.6" fill="#000"/>
<circle cx="238.2" cy="1733.8" r="5.6" fill="#000"/>
<circle cx="276.8" cy="1690.3" r="5.6" fill="#000"/>
<circle cx="276.8" cy="1751.8" r="5.6" fill="#000"/>
<circle cx="275.1" cy="1768.9" r="5.6" fill="#000"/>
<circle cx="270.4" cy="1776.6" r="5.6" fill="#000"/>
<circle cx="276.8" cy="1776.6" r="5.6" fill="#000"/>
<circle cx="282.6" cy="1776.6" r="5.6" fill="#000"/>
<circle cx="331.5" cy="1528.7" r="5.6" fill="#000"/>
<circle cx="331.5" cy="1608.2" r="5.6" fill="#000"/>
<circle cx="331.5" cy="1689.7" r="5.6" fill="#000"/>
<circle cx="326.7" cy="1776.6" r="5.1" fill="#9f9f9f" stroke="#8c8c8c" stroke-width="0.5"/>
<circle cx="331.5" cy="1776.6" r="5.1" fill="#9f9f9f" stroke="#8c8c8c" stroke-width="0.5"/>
<circle cx="336.3" cy="1776.6" r="5.1" fill="#9f9f9f" stroke="#8c8c8c" stroke-width="0.5"/>
<circle cx="364.3" cy="1525.9" r="5.6" fill="#000"/>
<circle cx="361.1" cy="1650.4" r="5.6" fill="#000"/>
<circle cx="367.6" cy="1658.5" r="5.6" fill="#000"/>
<circle cx="359.3" cy="1776.6" r="5.6" fill="#000"/>
<circle cx="364.4" cy="1776.6" r="5.6" fill="#000"/>
<circle cx="369.6" cy="1776.6" r="5.6" fill="#000"/>
<circle cx="397.5" cy="1579.6" r="5.6" fill="#000"/>
<circle cx="397.3" cy="1725.7" r="5.6" fill="#000"/>
<circle cx="397.3" cy="1754.9" r="5.6" fill="#000"/>
<circle cx="392.2" cy="1776.6" r="5.6" fill="#000"/>
<circle cx="397.2" cy="1776.6" r="5.6" fill="#000"/>
<circle cx="402.1" cy="1776.6" r="5.6" fill="#000"/>
<path d="M210.8 1505.3L210.8 1485.3L237.2 1485.3L237.2 1505.3" fill="none" stroke="#000" stroke-width="1.6"/>
<path d="M250.4 1505.3L250.4 1485.3L276.8 1485.3L276.8 1505.3" fill="none" stroke="#000" stroke-width="1.6"/>
<path d="M330.9 1505.3L330.9 1485.3L357.3 1485.3L357.3 1505.3" fill="none" stroke="#000" stroke-width="1.6"/>
<path d="M370.8 1507L370.8 1486.9L396.8 1486.9L396.8 1507" fill="none" stroke="#000" stroke-width="1.6"/>
<text x="224.3" y="1478.2" text-anchor="middle" style="font-size:22.4px">ns</text>
<text x="264.6" y="1478.2" text-anchor="middle" style="font-size:22.4px">ns</text>
<text x="344.4" y="1478.2" text-anchor="middle" style="font-size:22.4px">ns</text>
<text x="384" y="1479.8" text-anchor="middle" style="font-size:22.4px">ns</text>
<text x="244.6" y="1820.7" text-anchor="middle">Live</text>
<text x="363" y="1820.7" text-anchor="middle">Apoptotic</text>
<text x="304.8" y="1857.5" text-anchor="middle">1:1</text>
<text x="181.1" y="1820.7" text-anchor="end">HeLa cells</text>
<text x="181.1" y="1857.5" text-anchor="end">Mac:HeLa</text>
<text x="93.3" y="1603.6" text-anchor="middle" transform="rotate(-90 93.3 1603.6)">mTNF pg/mL</text>
<rect x="540.5" y="1760.2" width="19" height="16" fill="#231f20"/>
<rect x="573.2" y="1719.6" width="19" height="56.6" fill="#e12d2b"/>
<rect x="605.7" y="1710.1" width="19" height="66.1" fill="#4a5db1"/>
<rect x="660.8" y="1723.5" width="19" height="52.7" fill="#231f20"/>
<rect x="693.6" y="1603.3" width="19" height="172.9" fill="#e12d2b"/>
<rect x="726.6" y="1616.2" width="19" height="160" fill="#4a5db1"/>
<path d="M527.8 1430.5L527.8 1777.2" stroke="#000" stroke-width="2"/>
<path d="M512.3 1776.2L527.8 1776.2" stroke="#000" stroke-width="2"/>
<text x="507.7" y="1785.6" text-anchor="end">0</text>
<path d="M512.3 1690.03L527.8 1690.03" stroke="#000" stroke-width="2"/>
<text x="507.7" y="1699.43" text-anchor="end">100</text>
<path d="M512.3 1603.85L527.8 1603.85" stroke="#000" stroke-width="2"/>
<text x="507.7" y="1613.25" text-anchor="end">200</text>
<path d="M512.3 1517.67L527.8 1517.67" stroke="#000" stroke-width="2"/>
<text x="507.7" y="1527.08" text-anchor="end">300</text>
<path d="M512.3 1431.5L527.8 1431.5" stroke="#000" stroke-width="2"/>
<text x="507.7" y="1440.9" text-anchor="end">400</text>
<path d="M512.3 1776.2L760 1776.2" stroke="#000" stroke-width="2"/>
<path d="M581.8 1776.2L581.8 1791.2" stroke="#000" stroke-width="2"/>
<path d="M702.7 1776.2L702.7 1791.2" stroke="#000" stroke-width="2"/>
<path d="M550 1750.5L550 1770M544 1750.5L556 1750.5" fill="none" stroke="#000" stroke-width="1.6"/>
<path d="M582.7 1702.4L582.7 1733M576.7 1702.4L588.7 1702.4M576.7 1733L588.7 1733" fill="none" stroke="#000" stroke-width="1.6"/>
<path d="M615.2 1675.9L615.2 1741.5M609.2 1675.9L621.2 1675.9M609.2 1741.5L621.2 1741.5" fill="none" stroke="#000" stroke-width="1.6"/>
<path d="M670.3 1704.2L670.3 1740M664.3 1704.2L676.3 1704.2" fill="none" stroke="#000" stroke-width="1.6"/>
<path d="M703.1 1576L703.1 1627M697.1 1576L709.1 1576M697.1 1627L709.1 1627" fill="none" stroke="#000" stroke-width="1.6"/>
<path d="M736.1 1583.2L736.1 1647M730.1 1583.2L742.1 1583.2M730.1 1647L742.1 1647" fill="none" stroke="#000" stroke-width="1.6"/>
<circle cx="549.1" cy="1726.5" r="5.6" fill="#000"/>
<circle cx="549.1" cy="1744" r="5.6" fill="#000"/>
<circle cx="549.1" cy="1758.2" r="5.1" fill="#9f9f9f" stroke="#8c8c8c" stroke-width="0.5"/>
<circle cx="549.1" cy="1769.8" r="5.1" fill="#9f9f9f" stroke="#8c8c8c" stroke-width="0.5"/>
<circle cx="544" cy="1777" r="5.1" fill="#9f9f9f" stroke="#8c8c8c" stroke-width="0.5"/>
<circle cx="555.3" cy="1777" r="5.1" fill="#9f9f9f" stroke="#8c8c8c" stroke-width="0.5"/>
<circle cx="583.1" cy="1672" r="5.6" fill="#000"/>
<circle cx="583.1" cy="1690" r="5.6" fill="#000"/>
<circle cx="583.1" cy="1704.2" r="5.6" fill="#000"/>
<circle cx="583.1" cy="1717" r="5.6" fill="#000"/>
<circle cx="583.1" cy="1747.4" r="5.6" fill="#000"/>
<circle cx="583.1" cy="1777" r="5.6" fill="#000"/>
<circle cx="615.7" cy="1572.2" r="5.6" fill="#000"/>
<circle cx="610.1" cy="1679.2" r="5.6" fill="#000"/>
<circle cx="621.2" cy="1683.6" r="5.6" fill="#000"/>
<circle cx="615.7" cy="1764.1" r="5.6" fill="#000"/>
<circle cx="610.1" cy="1777" r="5.6" fill="#000"/>
<circle cx="621.2" cy="1777" r="5.6" fill="#000"/>
<circle cx="670.5" cy="1665" r="5.6" fill="#000"/>
<circle cx="670.5" cy="1679.7" r="5.6" fill="#000"/>
<circle cx="670.5" cy="1720.9" r="5.6" fill="#000"/>
<circle cx="670.5" cy="1737.1" r="5.1" fill="#9f9f9f" stroke="#8c8c8c" stroke-width="0.5"/>
<circle cx="670.5" cy="1749.7" r="5.1" fill="#9f9f9f" stroke="#8c8c8c" stroke-width="0.5"/>
<circle cx="670.5" cy="1777.5" r="5.1" fill="#9f9f9f" stroke="#8c8c8c" stroke-width="0.5"/>
<circle cx="703.2" cy="1497.1" r="5.6" fill="#000"/>
<circle cx="702.7" cy="1583.2" r="5.6" fill="#000"/>
<circle cx="708.6" cy="1594.3" r="5.6" fill="#000"/>
<circle cx="697.6" cy="1603.8" r="5.6" fill="#000"/>
<circle cx="697.6" cy="1666.1" r="5.6" fill="#000"/>
<circle cx="708.6" cy="1665" r="5.6" fill="#000"/>
<circle cx="736.1" cy="1525.9" r="5.6" fill="#000"/>
<circle cx="730.5" cy="1571.7" r="5.6" fill="#000"/>
<circle cx="741.3" cy="1580.2" r="5.6" fill="#000"/>
<circle cx="730.5" cy="1590.4" r="5.6" fill="#000"/>
<circle cx="736.1" cy="1692.1" r="5.6" fill="#000"/>
<circle cx="736.1" cy="1729.4" r="5.6" fill="#000"/>
<path d="M549.1 1476.5L549.1 1455.9L575.9 1455.9L575.9 1476.5" fill="none" stroke="#000" stroke-width="1.6"/>
<path d="M589 1476.5L589 1455.9L615.2 1455.9L615.2 1476.5" fill="none" stroke="#000" stroke-width="1.6"/>
<path d="M669.8 1476.5L669.8 1455.9L696.3 1455.9L696.3 1476.5" fill="none" stroke="#000" stroke-width="1.6"/>
<path d="M709.6 1476.5L709.6 1455.9L736.1 1455.9L736.1 1476.5" fill="none" stroke="#000" stroke-width="1.6"/>
<text x="562.5" y="1448.9" text-anchor="middle" style="font-size:22.4px">ns</text>
<text x="602.4" y="1448.9" text-anchor="middle" style="font-size:22.4px">ns</text>
<text x="681.88" y="1456.74" text-anchor="middle" style="font-size:21.8px;letter-spacing:0.55px">**</text>
<text x="723.8" y="1448.9" text-anchor="middle" style="font-size:22.4px">ns</text>
<text x="582.3" y="1820.7" text-anchor="middle">Live</text>
<text x="701.4" y="1820.7" text-anchor="middle">Apoptotic</text>
<text x="651.8" y="1857.5" text-anchor="middle">1:2</text>
<rect x="877.1" y="1765.9" width="19" height="10.3" fill="#231f20"/>
<rect x="909.5" y="1760.8" width="19" height="15.4" fill="#e12d2b"/>
<rect x="942.2" y="1762.8" width="19" height="13.4" fill="#4a5db1"/>
<rect x="997.2" y="1748.7" width="19" height="27.5" fill="#231f20"/>
<rect x="1030.3" y="1699" width="19" height="77.2" fill="#e12d2b"/>
<rect x="1063.2" y="1717.5" width="19" height="58.7" fill="#4a5db1"/>
<path d="M863.9 1427.9L863.9 1777.2" stroke="#000" stroke-width="2"/>
<path d="M848.4 1776.2L863.9 1776.2" stroke="#000" stroke-width="2"/>
<text x="841.7" y="1785.6" text-anchor="end">0</text>
<path d="M848.4 1718.32L863.9 1718.32" stroke="#000" stroke-width="2"/>
<text x="841.7" y="1727.72" text-anchor="end">250</text>
<path d="M848.4 1660.43L863.9 1660.43" stroke="#000" stroke-width="2"/>
<text x="841.7" y="1669.83" text-anchor="end">500</text>
<path d="M848.4 1602.55L863.9 1602.55" stroke="#000" stroke-width="2"/>
<text x="841.7" y="1611.95" text-anchor="end">750</text>
<path d="M848.4 1544.67L863.9 1544.67" stroke="#000" stroke-width="2"/>
<text x="841.7" y="1554.07" text-anchor="end">1000</text>
<path d="M848.4 1486.78L863.9 1486.78" stroke="#000" stroke-width="2"/>
<text x="841.7" y="1496.18" text-anchor="end">1250</text>
<path d="M848.4 1428.9L863.9 1428.9" stroke="#000" stroke-width="2"/>
<text x="841.7" y="1438.3" text-anchor="end">1500</text>
<path d="M848.5 1776.2L1096.7 1776.2" stroke="#000" stroke-width="2"/>
<path d="M917.9 1776.2L917.9 1791.2" stroke="#000" stroke-width="2"/>
<path d="M1038.8 1776.2L1038.8 1791.2" stroke="#000" stroke-width="2"/>
<path d="M886.6 1760L886.6 1766" fill="none" stroke="#000" stroke-width="1.6"/>
<path d="M919 1747L919 1766.7M913 1747L925 1747M913 1766.7L925 1766.7" fill="none" stroke="#000" stroke-width="1.6"/>
<path d="M951.7 1752L951.7 1767.7M945.7 1752L957.7 1752M945.7 1767.7L957.7 1767.7" fill="none" stroke="#000" stroke-width="1.6"/>
<path d="M1006.7 1733L1006.7 1749M1000.7 1733L1012.7 1733" fill="none" stroke="#000" stroke-width="1.6"/>
<path d="M1039.8 1682.3L1039.8 1713.7M1033.8 1682.3L1045.8 1682.3M1033.8 1713.7L1045.8 1713.7" fill="none" stroke="#000" stroke-width="1.6"/>
<path d="M1072.7 1702.4L1072.7 1729.1M1066.7 1702.4L1078.7 1702.4M1066.7 1729.1L1078.7 1729.1" fill="none" stroke="#000" stroke-width="1.6"/>
<circle cx="880.1" cy="1750.5" r="5.6" fill="#000"/>
<circle cx="890.9" cy="1746.1" r="5.6" fill="#000"/>
<circle cx="885.8" cy="1759" r="5.6" fill="#000"/>
<circle cx="880.1" cy="1776.2" r="5.1" fill="#9f9f9f" stroke="#8c8c8c" stroke-width="0.5"/>
<circle cx="885.4" cy="1776.2" r="5.1" fill="#9f9f9f" stroke="#8c8c8c" stroke-width="0.5"/>
<circle cx="890.6" cy="1776.2" r="5.1" fill="#9f9f9f" stroke="#8c8c8c" stroke-width="0.5"/>
<circle cx="918.7" cy="1729.9" r="5.6" fill="#000"/>
<circle cx="915.9" cy="1744.8" r="5.6" fill="#000"/>
<circle cx="921.8" cy="1750.5" r="5.6" fill="#000"/>
<circle cx="913.4" cy="1776.2" r="5.6" fill="#000"/>
<circle cx="918.7" cy="1776.2" r="5.6" fill="#000"/>
<circle cx="923.9" cy="1776.2" r="5.6" fill="#000"/>
<circle cx="951.9" cy="1733.7" r="5.6" fill="#000"/>
<circle cx="948.3" cy="1749.7" r="5.6" fill="#000"/>
<circle cx="954.7" cy="1754.3" r="5.6" fill="#000"/>
<circle cx="946.7" cy="1776.2" r="5.6" fill="#000"/>
<circle cx="951.6" cy="1776.2" r="5.6" fill="#000"/>
<circle cx="956.4" cy="1776.2" r="5.6" fill="#000"/>
<circle cx="1006.7" cy="1688" r="5.6" fill="#000"/>
<circle cx="1006.7" cy="1731.9" r="5.6" fill="#000"/>
<circle cx="1006.7" cy="1749.2" r="5.1" fill="#9f9f9f" stroke="#8c8c8c" stroke-width="0.5"/>
<circle cx="1006.7" cy="1760.8" r="5.1" fill="#9f9f9f" stroke="#8c8c8c" stroke-width="0.5"/>
<circle cx="1011.8" cy="1772.3" r="5.1" fill="#9f9f9f" stroke="#8c8c8c" stroke-width="0.5"/>
<circle cx="1000.8" cy="1776.7" r="5.1" fill="#9f9f9f" stroke="#8c8c8c" stroke-width="0.5"/>
<circle cx="1039.6" cy="1623.6" r="5.6" fill="#000"/>
<circle cx="1039.6" cy="1692.6" r="5.6" fill="#000"/>
<circle cx="1039.6" cy="1705.4" r="5.6" fill="#000"/>
<circle cx="1033.7" cy="1722.2" r="5.6" fill="#000"/>
<circle cx="1039.6" cy="1722.2" r="5.6" fill="#000"/>
<circle cx="1045.8" cy="1722.2" r="5.6" fill="#000"/>
<circle cx="1072.8" cy="1670.7" r="5.6" fill="#000"/>
<circle cx="1072.8" cy="1681" r="5.6" fill="#000"/>
<circle cx="1072.8" cy="1713.9" r="5.6" fill="#000"/>
<circle cx="1067.1" cy="1744" r="5.6" fill="#000"/>
<circle cx="1072.8" cy="1741.5" r="5.6" fill="#000"/>
<circle cx="1078.2" cy="1744" r="5.6" fill="#000"/>
<path d="M885.8 1603.3L885.8 1583.2L912 1583.2L912 1603.3" fill="none" stroke="#000" stroke-width="1.6"/>
<path d="M925.6 1603.3L925.6 1583.2L951.9 1583.2L951.9 1603.3" fill="none" stroke="#000" stroke-width="1.6"/>
<path d="M1006.2 1603.3L1006.2 1583.2L1032.4 1583.2L1032.4 1603.3" fill="none" stroke="#000" stroke-width="1.6"/>
<path d="M1046 1603.3L1046 1583.2L1072.3 1583.2L1072.3 1603.3" fill="none" stroke="#000" stroke-width="1.6"/>
<text x="898.6" y="1576" text-anchor="middle" style="font-size:22.4px">ns</text>
<text x="938.5" y="1576" text-anchor="middle" style="font-size:22.4px">ns</text>
<text x="1019.27" y="1584.14" text-anchor="middle" style="font-size:21.8px;letter-spacing:0.55px">*</text>
<text x="1059.4" y="1576" text-anchor="middle" style="font-size:22.4px">ns</text>
<text x="919.2" y="1820.7" text-anchor="middle">Live</text>
<text x="1038.8" y="1820.7" text-anchor="middle">Apoptotic</text>
<text x="981" y="1857.5" text-anchor="middle">1:4</text>
<rect x="1214.9" y="1762" width="19" height="14.2" fill="#231f20"/>
<rect x="1247.8" y="1754.3" width="19" height="21.9" fill="#e12d2b"/>
<rect x="1280.7" y="1768" width="19" height="8.2" fill="#4a5db1"/>
<rect x="1335.5" y="1736.3" width="19" height="39.9" fill="#231f20"/>
<rect x="1368.4" y="1627.7" width="19" height="148.5" fill="#e12d2b"/>
<rect x="1401.4" y="1727.3" width="19" height="48.9" fill="#4a5db1"/>
<path d="M1202.9 1427.9L1202.9 1777.2" stroke="#000" stroke-width="2"/>
<path d="M1187.4 1776.2L1202.9 1776.2" stroke="#000" stroke-width="2"/>
<text x="1179.5" y="1785.6" text-anchor="end">0</text>
<path d="M1187.4 1718.32L1202.9 1718.32" stroke="#000" stroke-width="2"/>
<text x="1179.5" y="1727.72" text-anchor="end">250</text>
<path d="M1187.4 1660.43L1202.9 1660.43" stroke="#000" stroke-width="2"/>
<text x="1179.5" y="1669.83" text-anchor="end">500</text>
<path d="M1187.4 1602.55L1202.9 1602.55" stroke="#000" stroke-width="2"/>
<text x="1179.5" y="1611.95" text-anchor="end">750</text>
<path d="M1187.4 1544.67L1202.9 1544.67" stroke="#000" stroke-width="2"/>
<text x="1179.5" y="1554.07" text-anchor="end">1000</text>
<path d="M1187.4 1486.78L1202.9 1486.78" stroke="#000" stroke-width="2"/>
<text x="1179.5" y="1496.18" text-anchor="end">1250</text>
<path d="M1187.4 1428.9L1202.9 1428.9" stroke="#000" stroke-width="2"/>
<text x="1179.5" y="1438.3" text-anchor="end">1500</text>
<path d="M1187.5 1776.2L1435.2 1776.2" stroke="#000" stroke-width="2"/>
<path d="M1256.9 1776.2L1256.9 1791.2" stroke="#000" stroke-width="2"/>
<path d="M1377.3 1776.2L1377.3 1791.2" stroke="#000" stroke-width="2"/>
<path d="M1224.4 1750L1224.4 1770M1218.4 1750L1230.4 1750" fill="none" stroke="#000" stroke-width="1.6"/>
<path d="M1257.3 1731.9L1257.3 1770M1251.3 1731.9L1263.3 1731.9" fill="none" stroke="#000" stroke-width="1.6"/>
<path d="M1290.2 1757.4L1290.2 1772M1284.2 1757.4L1296.2 1757.4" fill="none" stroke="#000" stroke-width="1.6"/>
<path d="M1345 1727L1345 1745.8M1339 1727L1351 1727M1339 1745.8L1351 1745.8" fill="none" stroke="#000" stroke-width="1.6"/>
<path d="M1377.9 1592.8L1377.9 1659.1M1371.9 1592.8L1383.9 1592.8M1371.9 1659.1L1383.9 1659.1" fill="none" stroke="#000" stroke-width="1.6"/>
<path d="M1410.9 1720.9L1410.9 1734M1404.9 1720.9L1416.9 1720.9M1404.9 1734L1416.9 1734" fill="none" stroke="#000" stroke-width="1.6"/>
<circle cx="1224.8" cy="1708.5" r="5.6" fill="#000"/>
<circle cx="1224.8" cy="1748.4" r="5.6" fill="#000"/>
<circle cx="1219.1" cy="1777" r="5.1" fill="#9f9f9f" stroke="#8c8c8c" stroke-width="0.5"/>
<circle cx="1225.3" cy="1777" r="5.1" fill="#9f9f9f" stroke="#8c8c8c" stroke-width="0.5"/>
<circle cx="1229.4" cy="1777" r="5.1" fill="#9f9f9f" stroke="#8c8c8c" stroke-width="0.5"/>
<circle cx="1257.4" cy="1652.7" r="5.6" fill="#000"/>
<circle cx="1257.4" cy="1760.2" r="5.6" fill="#000"/>
<circle cx="1251.3" cy="1777" r="5.6" fill="#000"/>
<circle cx="1257.4" cy="1777" r="5.6" fill="#000"/>
<circle cx="1262.9" cy="1777" r="5.6" fill="#000"/>
<circle cx="1290.4" cy="1722.7" r="5.6" fill="#000"/>
<circle cx="1287" cy="1770.5" r="5.6" fill="#000"/>
<circle cx="1283.9" cy="1777" r="5.6" fill="#000"/>
<circle cx="1290.4" cy="1777" r="5.6" fill="#000"/>
<circle cx="1295.5" cy="1777" r="5.6" fill="#000"/>
<circle cx="1345.7" cy="1686.1" r="5.6" fill="#000"/>
<circle cx="1345.7" cy="1722.2" r="5.6" fill="#000"/>
<circle cx="1345.7" cy="1731.9" r="5.6" fill="#000"/>
<circle cx="1339.3" cy="1749.2" r="5.1" fill="#9f9f9f" stroke="#8c8c8c" stroke-width="0.5"/>
<circle cx="1350.1" cy="1756.1" r="5.1" fill="#9f9f9f" stroke="#8c8c8c" stroke-width="0.5"/>
<circle cx="1339.3" cy="1763.8" r="5.1" fill="#9f9f9f" stroke="#8c8c8c" stroke-width="0.5"/>
<circle cx="1377.8" cy="1463.1" r="5.6" fill="#000"/>
<circle cx="1371.9" cy="1636.8" r="5.6" fill="#000"/>
<circle cx="1383.8" cy="1642.4" r="5.6" fill="#000"/>
<circle cx="1377.8" cy="1657.3" r="5.6" fill="#000"/>
<circle cx="1377.8" cy="1668.1" r="5.6" fill="#000"/>
<circle cx="1377.8" cy="1691.8" r="5.6" fill="#000"/>
<circle cx="1417" cy="1706.2" r="5.6" fill="#000"/>
<circle cx="1405.4" cy="1713.9" r="5.6" fill="#000"/>
<circle cx="1417" cy="1723.5" r="5.6" fill="#000"/>
<circle cx="1405.4" cy="1729.1" r="5.6" fill="#000"/>
<circle cx="1417" cy="1738.4" r="5.6" fill="#000"/>
<circle cx="1411.3" cy="1749.2" r="5.6" fill="#000"/>
<path d="M1224 1443L1224 1423.2L1250 1423.2L1250 1443" fill="none" stroke="#000" stroke-width="1.6"/>
<path d="M1263.9 1443L1263.9 1423.2L1289.9 1423.2L1289.9 1443" fill="none" stroke="#000" stroke-width="1.6"/>
<path d="M1344.4 1443L1344.4 1423.2L1370.9 1423.2L1370.9 1443" fill="none" stroke="#000" stroke-width="1.6"/>
<path d="M1384.3 1443L1384.3 1423.2L1410.8 1423.2L1410.8 1443" fill="none" stroke="#000" stroke-width="1.6"/>
<text x="1237.1" y="1415.5" text-anchor="middle" style="font-size:22.4px">ns</text>
<text x="1277" y="1415.5" text-anchor="middle" style="font-size:22.4px">ns</text>
<text x="1358.08" y="1423.34" text-anchor="middle" style="font-size:21.8px;letter-spacing:0.55px">***</text>
<text x="1397.98" y="1423.34" text-anchor="middle" style="font-size:21.8px;letter-spacing:0.55px">**</text>
<text x="1256.2" y="1820.7" text-anchor="middle">Live</text>
<text x="1375.3" y="1820.7" text-anchor="middle">Apoptotic</text>
<text x="1318.7" y="1857.5" text-anchor="middle">1:8</text>
<rect x="1465.9" y="1675.5" width="19.6" height="19.1" fill="#231f20"/>
<text x="1491.1" y="1693.8" style="font-size:25.6px" textLength="118.6" lengthAdjust="spacingAndGlyphs">Untreated</text>
<rect x="1465.9" y="1715.8" width="19.6" height="19.6" fill="#e12d2b"/>
<text x="1491.1" y="1735" style="font-size:25.6px" textLength="125.6" lengthAdjust="spacingAndGlyphs">PNGase F</text>
<rect x="1465.9" y="1751.3" width="19.6" height="19.1" fill="#4a5db1"/>
<text x="1491.1" y="1770.4" style="font-size:25.6px" textLength="240.3" lengthAdjust="spacingAndGlyphs">PNGase F + RNase</text>
</svg>
</body></html>
